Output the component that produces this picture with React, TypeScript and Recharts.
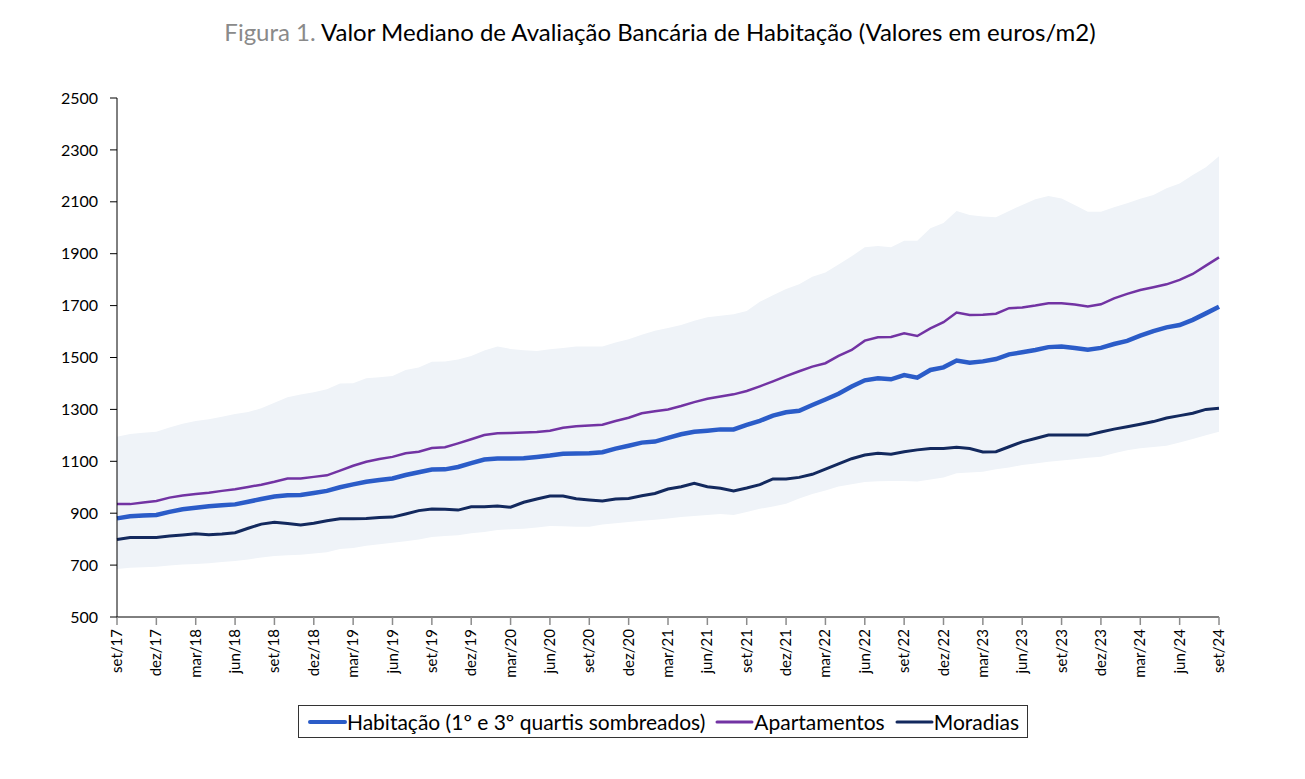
import React from "react";
import { Area, ComposedChart, Line, XAxis, YAxis } from "recharts";

const monthNames = ["jan", "fev", "mar", "abr", "mai", "jun", "jul", "ago", "set", "out", "nov", "dez"];

// set/17 .. set/24, monthly
const months: string[] = [];
for (let y = 2017; y <= 2024; y++) {
  for (let m = 0; m < 12; m++) {
    if (y === 2017 && m < 8) continue;
    if (y === 2024 && m > 8) continue;
    months.push(`${monthNames[m]}/${String(y).slice(2)}`);
  }
}

const habitacao = [
  880, 888, 891, 893, 905, 915, 921, 927, 931, 934, 944, 955, 964, 969, 970, 978, 986, 1000, 1011, 1021,
  1028, 1034, 1047, 1058, 1068, 1069, 1078, 1093, 1107, 1111, 1111, 1112, 1117, 1122, 1129, 1130, 1131, 1135, 1149, 1160,
  1172, 1176, 1190, 1204, 1214, 1218, 1223, 1223, 1240, 1256, 1276, 1289, 1295, 1317, 1338, 1360, 1388, 1412, 1420, 1416,
  1432, 1422, 1452, 1462, 1488, 1480, 1485, 1494, 1512, 1520, 1529, 1540, 1542, 1537, 1530, 1537, 1552, 1564, 1584, 1602,
  1616, 1625, 1645, 1670, 1696,
];

const apartamentos = [
  935, 935, 941, 947, 960, 968, 974, 979, 986, 992, 1001, 1010, 1021, 1034, 1034, 1040, 1046, 1064, 1083, 1098,
  1109, 1117, 1131, 1137, 1151, 1154, 1169, 1185, 1201, 1208, 1209, 1211, 1213, 1218, 1229, 1235, 1238, 1241, 1255, 1268,
  1285, 1293, 1300, 1313, 1328, 1341, 1350, 1358, 1371, 1389, 1408, 1428, 1447, 1465, 1478, 1506, 1529, 1565, 1578, 1579,
  1593, 1583, 1612, 1636, 1673, 1664, 1665, 1669, 1690, 1693, 1700, 1709, 1709, 1704, 1697, 1705, 1728, 1745, 1760, 1771,
  1782, 1799, 1822, 1854, 1886,
];

const moradias = [
  799, 806, 806, 806, 812, 816, 821, 817, 820, 825, 842, 858, 865, 860, 855, 861, 871, 879, 879, 880,
  883, 885, 897, 910, 916, 915, 912, 925, 925, 928, 923, 942, 955, 966, 966, 956, 951, 947, 955, 957,
  967, 976, 993, 1002, 1015, 1002, 996, 986, 997, 1010, 1032, 1032, 1038, 1050, 1070, 1090, 1110, 1124, 1131, 1127,
  1137, 1144, 1149, 1149, 1154, 1149, 1136, 1137, 1156, 1175, 1188, 1201, 1201, 1201, 1201, 1213, 1224, 1233, 1243, 1253,
  1267, 1276, 1285, 1300, 1304,
];

const quartil1 = [
  685, 690, 692, 694, 698, 702, 704, 707, 712, 716, 722, 729, 735, 738, 740, 745, 750, 762, 766, 775,
  780, 786, 792, 799, 808, 812, 815, 823, 828, 835, 838, 840, 845, 851, 850, 848, 848, 856, 861, 866,
  871, 875, 880, 885, 889, 893, 897, 893, 905, 917, 926, 936, 957, 974, 987, 1003, 1012, 1020, 1023, 1024,
  1024, 1022, 1030, 1038, 1054, 1057, 1060, 1069, 1076, 1086, 1092, 1098, 1103, 1108, 1114, 1118, 1131, 1143, 1150, 1155,
  1160, 1172, 1186, 1200, 1214,
];

const quartil3 = [
  1195, 1205, 1210, 1214, 1230, 1245, 1255, 1262, 1272, 1282, 1290, 1304, 1326, 1347, 1357, 1366, 1378, 1400, 1401, 1420,
  1424, 1429, 1452, 1461, 1484, 1485, 1492, 1506, 1527, 1542, 1533, 1528, 1525, 1532, 1537, 1542, 1542, 1542, 1558, 1570,
  1588, 1603, 1614, 1625, 1642, 1655, 1661, 1667, 1679, 1715, 1740, 1764, 1782, 1811, 1828, 1858, 1890, 1925, 1930, 1925,
  1950, 1950, 1998, 2018, 2065, 2049, 2043, 2040, 2065, 2088, 2110, 2122, 2113, 2088, 2062, 2062, 2079, 2094, 2112, 2126,
  2152, 2171, 2203, 2233, 2276,
];

const yTicks = [500, 700, 900, 1100, 1300, 1500, 1700, 1900, 2100, 2300, 2500];

const data = months.map((m, i) => ({
  m,
  hab: habitacao[i],
  apt: apartamentos[i],
  mor: moradias[i],
  band: [quartil1[i], quartil3[i]],
}));

const FONT = "Lato, 'Open Sans', sans-serif";

const COLORS = {
  hab: "#2b5cc8",
  apt: "#7233a3",
  mor: "#13295e",
  band: "#eff3f8",
};

function XTick({ x, y, payload }: any) {
  return (
    <g transform={`translate(${x},${y})`}>
      <text
        transform="rotate(-90)"
        x={-2}
        y={0}
        dy={5}
        textAnchor="end"
        fontSize={15}
        fontFamily={FONT}
        fill="#000"
      >
        {payload.value}
      </text>
    </g>
  );
}

const legendItems = [
  { label: "Habitação (1º e 3º quartis sombreados)", color: COLORS.hab, w: 4 },
  { label: "Apartamentos", color: COLORS.apt, w: 3 },
  { label: "Moradias", color: COLORS.mor, w: 3 },
];

export default function App() {
  return (
    <div style={{ position: "relative", width: 1289, height: 763, fontFamily: FONT }}>
      <div
        style={{
          position: "absolute",
          top: 9,
          left: 15,
          width: 1274,
          textAlign: "center",
          fontSize: 24,
          lineHeight: "30px",
          color: "#000",
        }}
      >
        <span style={{ color: "#8a8a8a" }}>Figura 1.</span> Valor Mediano de Avaliação Bancária de Habitação (Valores em euros/m2)
      </div>

      <ComposedChart
        width={1289}
        height={700}
        data={data}
        margin={{ top: 90, right: 78, bottom: 0, left: 0 }}
      >
        <XAxis
          dataKey="m"
          scale="point"
          interval={2}
          height={91}
          tick={<XTick />}
          tickSize={8}
          tickLine={{ stroke: "#8c8c8c", strokeWidth: 1.5 }}
          axisLine={{ stroke: "#000", strokeWidth: 1 }}
        />
        <YAxis
          domain={[500, 2500]}
          ticks={yTicks}
          width={109}
          tickSize={7}
          tickMargin={12}
          tick={{ fontSize: 16, fill: "#000", fontFamily: FONT }}
          tickLine={{ stroke: "#000" }}
          axisLine={{ stroke: "#000" }}
        />
        <Area
          dataKey="band"
          type="linear"
          stroke="none"
          fill={COLORS.band}
          fillOpacity={1}
          isAnimationActive={false}
          activeDot={false}
        />
        <Line dataKey="mor" type="linear" stroke={COLORS.mor} strokeWidth={3} dot={false} isAnimationActive={false} />
        <Line dataKey="apt" type="linear" stroke={COLORS.apt} strokeWidth={2.5} dot={false} isAnimationActive={false} />
        <Line dataKey="hab" type="linear" stroke={COLORS.hab} strokeWidth={4.5} dot={false} isAnimationActive={false} />
      </ComposedChart>

      <div
        style={{
          position: "absolute",
          top: 697,
          left: 290,
          width: 730,
          height: 33,
          boxSizing: "border-box",
          border: "1px solid #333",
          display: "flex",
          alignItems: "center",
          justifyContent: "center",
          gap: 9,
          fontSize: 21,
          color: "#000",
        }}
      >
        {legendItems.map((it) => (
          <div key={it.label} style={{ display: "flex", alignItems: "center" }}>
            <svg width={40} height={10}>
              <line x1={3} y1={5} x2={38} y2={5} stroke={it.color} strokeWidth={it.w} strokeLinecap="round" />
            </svg>
            <span>{it.label}</span>
          </div>
        ))}
      </div>
    </div>
  );
}
